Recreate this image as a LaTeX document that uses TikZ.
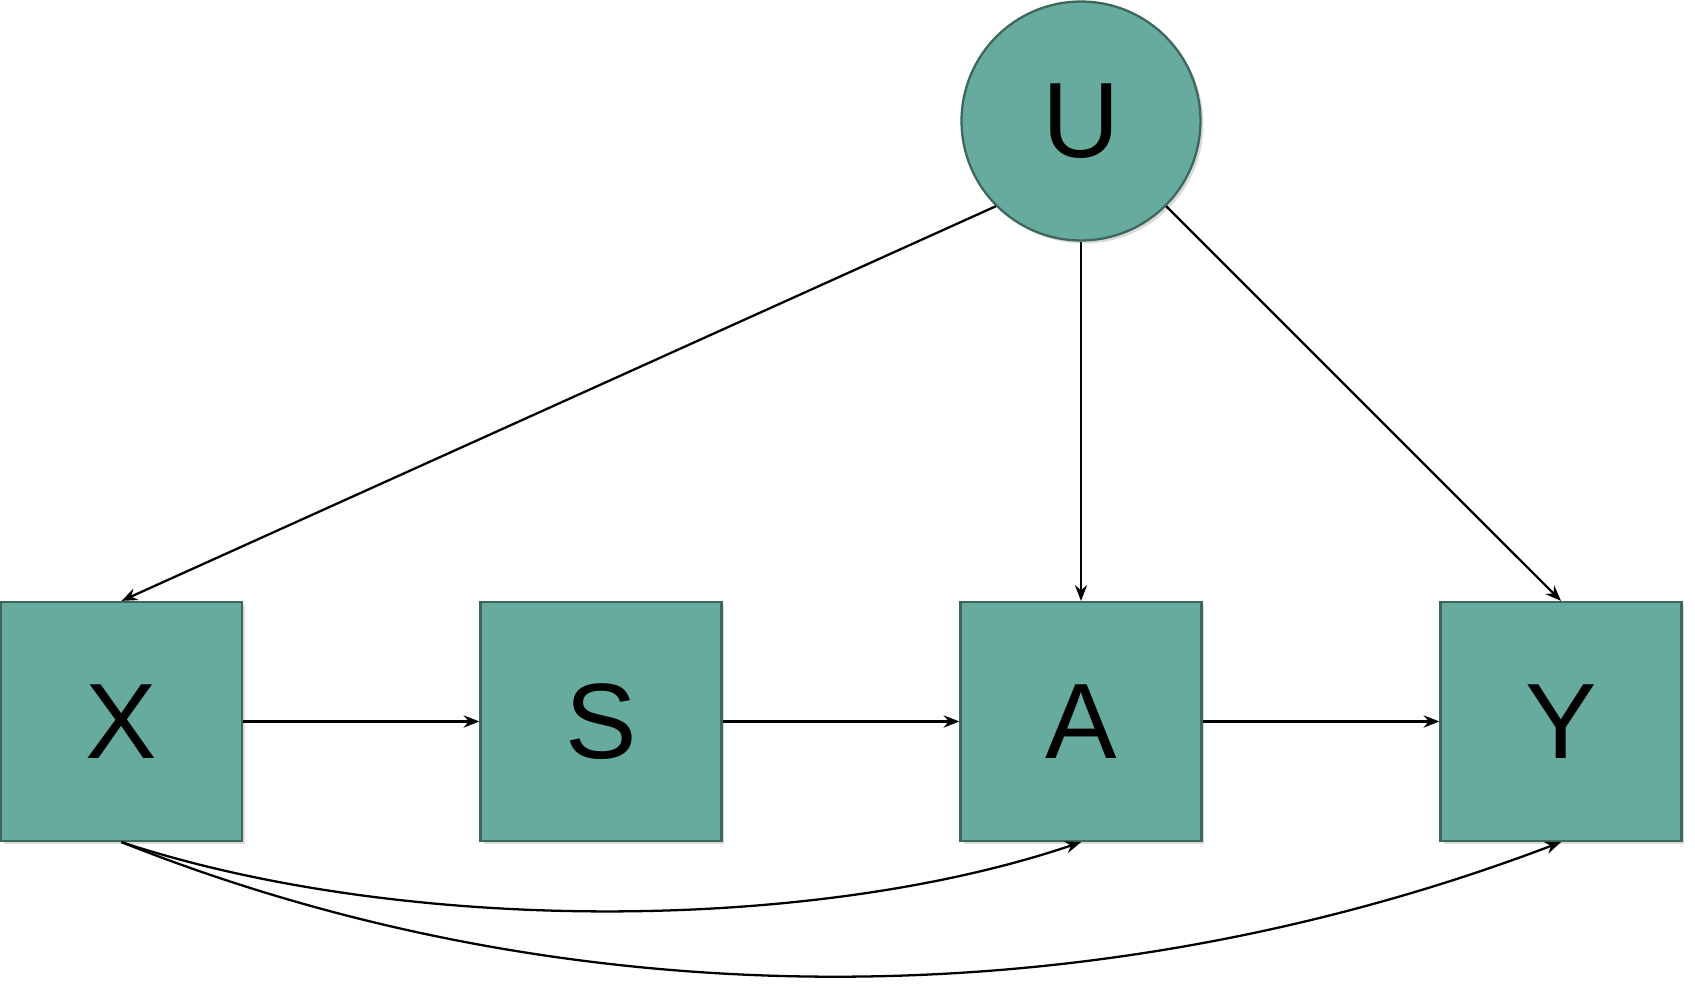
\documentclass[tikz,border=0pt]{standalone}
\usepackage{fontspec}
\setmainfont{Liberation Sans}
\usetikzlibrary{arrows.meta,shadows}
\definecolor{nodefill}{HTML}{67AB9F}
\definecolor{nodeline}{HTML}{3D665C}
\begin{document}
\begin{tikzpicture}[x=0.02cm,y=-0.02cm,
  varbox/.style={rectangle,draw=nodeline,fill=nodefill,line width=1.3pt,
    minimum width=4.82cm,minimum height=4.78cm,inner sep=0pt,
    font=\fontsize{61}{65}\selectfont,
    drop shadow={shadow xshift=0.06cm,shadow yshift=-0.06cm,opacity=0.3,fill=gray}},
  latent/.style={circle,draw=nodeline,fill=nodefill,line width=1.3pt,
    minimum size=4.78cm,inner sep=0pt,
    font=\fontsize{61}{65}\selectfont,
    drop shadow={shadow xshift=0.06cm,shadow yshift=-0.06cm,opacity=0.3,fill=gray}},
  link/.style={-{Stealth[length=9pt,width=7pt,inset=3pt]},line width=1.3pt,black}]
\useasboundingbox (0,0) rectangle (1695,990);
% latent confounder
\node[latent] (U) at (1081,121) {U};
% observed chain
\node[varbox] (X) at (121.5,721.5) {X};
\node[varbox] (S) at (601,721.5) {S};
\node[varbox] (A) at (1081,721.5) {A};
\node[varbox] (Y) at (1561,721.5) {Y};
% edges from U
\draw[link] (U.south west) -- (X.north);
\draw[link] (U.south) -- (A.north);
\draw[link] (U.south east) -- (Y.north);
% chain edges
\draw[link] (X.east) -- (S.west);
\draw[link] (S.east) -- (A.west);
\draw[link] (A.east) -- (Y.west);
% direct effects of X
\draw[link] (X.south) .. controls (400,934) and (810,934) .. (A.south);
\draw[link] (X.south) .. controls (570,1021) and (1090,1021) .. (Y.south);
\end{tikzpicture}
\end{document}
